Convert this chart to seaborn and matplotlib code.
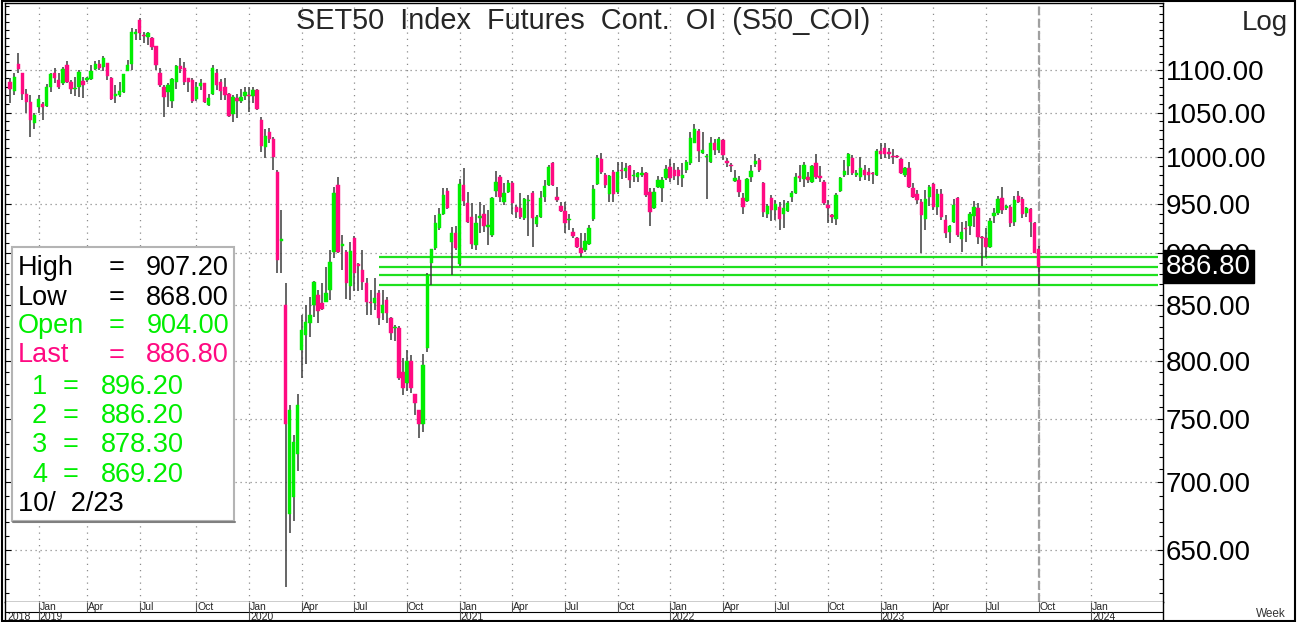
import numpy as np
import pandas as pd
import matplotlib
matplotlib.use("Agg")
import matplotlib.pyplot as plt
import matplotlib.dates as mdates
import matplotlib.transforms as mtransforms
from matplotlib.patches import Rectangle
from matplotlib.lines import Line2D
from matplotlib.ticker import FixedLocator, NullFormatter, FuncFormatter
import seaborn as sns

# weekly bars, first bar on this Monday
first_week = "2018-11-19"

opens = [1086, 1075, 1108, 1096, 1072, 1062, 1038, 1056, 1060, 1058,
         1080, 1097, 1088, 1084, 1106, 1086, 1077, 1080, 1087, 1088,
         1089, 1101, 1107, 1104, 1109, 1090, 1069, 1070, 1074, 1099,
         1108, 1145, 1162, 1143, 1141, 1140, 1129, 1097, 1080, 1074,
         1063, 1086, 1105, 1102, 1090, 1088, 1066, 1081, 1084, 1059,
         1072, 1096, 1086, 1080, 1072, 1048, 1067, 1063, 1069, 1070,
         1069, 1076, 1042, 1011, 1028, 1020, 984, 912, 850, 676,
         689, 722, 809, 823, 834, 850, 860, 852, 853, 864,
         901, 970, 907, 901, 868, 915, 889, 884, 871, 853,
         852, 862, 843, 855, 838, 829, 829, 790, 781, 800,
         771, 758, 746, 811, 890, 905, 925, 940, 964, 911,
         920, 889, 970, 951, 936, 908, 935, 939, 926, 918,
         964, 978, 952, 962, 972, 947, 946, 935, 953, 961,
         929, 936, 957, 970, 993, 957, 948, 943, 933, 921,
         915, 905, 903, 909, 934, 971, 998, 980, 960, 984,
         962, 986, 985, 990, 979, 978, 981, 983, 962, 946,
         968, 967, 977, 989, 986, 986, 977, 986, 993, 1015,
         1029, 1004, 1000, 995, 1015, 1008, 1019, 995, 991, 974,
         975, 956, 953, 978, 992, 997, 972, 940, 956, 944,
         947, 939, 943, 957, 961, 979, 976, 978, 973, 993,
         979, 973, 949, 938, 934, 963, 980, 990, 999, 981,
         978, 986, 984, 983, 980, 1007, 1010, 1006, 1001, 1001,
         998, 980, 988, 967, 960, 952, 934, 957, 971, 947,
         960, 933, 921, 931, 956, 914, 925, 927, 937, 946,
         916, 915, 906, 937, 941, 956, 946, 947, 931, 958,
         955, 941, 945, 930, 904.0]
highs = [1090, 1097, 1121, 1096, 1078, 1070, 1049, 1070, 1062, 1083,
         1097, 1102, 1097, 1104, 1111, 1088, 1092, 1100, 1092, 1092,
         1106, 1111, 1112, 1117, 1109, 1092, 1082, 1086, 1095, 1112,
         1152, 1151, 1165, 1147, 1147, 1141, 1129, 1103, 1082, 1085,
         1090, 1106, 1115, 1110, 1090, 1090, 1086, 1089, 1085, 1072,
         1106, 1101, 1089, 1090, 1073, 1070, 1072, 1078, 1080, 1080,
         1080, 1077, 1045, 1031, 1032, 1022, 986, 944, 871, 762,
         737, 771, 841, 850, 858, 873, 864, 871, 886, 903,
         968, 978, 918, 903, 911, 917, 890, 903, 876, 864,
         876, 864, 864, 858, 839, 832, 831, 802, 809, 805,
         771, 758, 806, 881, 904, 938, 946, 967, 967, 926,
         927, 976, 988, 962, 951, 940, 952, 949, 944, 957,
         985, 980, 972, 975, 974, 949, 961, 956, 959, 964,
         938, 964, 975, 991, 995, 968, 952, 952, 940, 925,
         916, 920, 920, 928, 970, 1002, 1004, 983, 980, 986,
         995, 995, 993, 991, 986, 984, 989, 984, 967, 967,
         979, 978, 991, 998, 993, 989, 993, 997, 1028, 1037,
         1031, 1028, 1003, 1022, 1020, 1022, 1020, 999, 993, 986,
         979, 961, 977, 991, 1003, 999, 973, 950, 959, 954,
         952, 954, 953, 964, 983, 991, 995, 984, 991, 1003,
         990, 975, 954, 940, 961, 978, 997, 1004, 1002, 986,
         1000, 991, 988, 984, 1009, 1016, 1016, 1010, 1009, 1002,
         999, 989, 995, 972, 965, 955, 965, 970, 972, 966,
         966, 938, 928, 955, 957, 931, 932, 942, 953, 951,
         917, 925, 935, 946, 958, 968, 949, 949, 958, 964,
         957, 947, 946, 931, 907.2]
lows = [1061, 1070, 1097, 1064, 1050, 1022, 1031, 1049, 1041, 1057,
        1074, 1084, 1077, 1082, 1084, 1072, 1069, 1068, 1067, 1086,
        1088, 1100, 1100, 1099, 1088, 1064, 1061, 1068, 1073, 1099,
        1100, 1137, 1137, 1133, 1131, 1124, 1100, 1080, 1045, 1057,
        1055, 1077, 1096, 1082, 1074, 1061, 1063, 1076, 1061, 1058,
        1070, 1076, 1065, 1065, 1045, 1039, 1044, 1061, 1065, 1051,
        1061, 1053, 1006, 999, 1015, 986, 881, 881, 624, 662,
        671, 709, 785, 797, 821, 839, 834, 846, 853, 855,
        895, 900, 884, 856, 855, 863, 863, 864, 841, 841,
        846, 832, 836, 834, 818, 817, 783, 770, 774, 772,
        754, 735, 740, 808, 869, 903, 923, 938, 945, 879,
        903, 887, 948, 930, 904, 903, 920, 921, 908, 916,
        957, 952, 949, 961, 940, 935, 934, 933, 917, 906,
        926, 935, 952, 969, 969, 952, 942, 920, 923, 915,
        905, 896, 901, 908, 932, 970, 982, 967, 952, 952,
        960, 976, 977, 967, 973, 973, 978, 957, 927, 945,
        967, 952, 975, 973, 975, 970, 968, 983, 991, 1015,
        995, 1003, 955, 994, 1002, 1005, 997, 989, 984, 973,
        957, 940, 952, 973, 989, 984, 936, 935, 932, 933,
        923, 925, 942, 952, 960, 973, 968, 972, 972, 976,
        973, 949, 930, 930, 928, 962, 978, 980, 980, 978,
        974, 975, 974, 971, 979, 998, 999, 998, 992, 999,
        982, 978, 967, 956, 950, 900, 923, 948, 944, 938,
        933, 915, 910, 930, 916, 901, 911, 918, 926, 909,
        887, 896, 905, 930, 938, 940, 944, 926, 927, 951,
        935, 936, 916, 900, 868.0]
closes = [1078, 1092, 1101, 1071, 1062, 1042, 1047, 1066, 1057, 1080,
          1095, 1091, 1080, 1101, 1086, 1078, 1078, 1098, 1082, 1090,
          1099, 1107, 1102, 1115, 1093, 1066, 1071, 1075, 1095, 1106,
          1147, 1147, 1146, 1142, 1146, 1128, 1106, 1082, 1068, 1082,
          1089, 1105, 1101, 1086, 1086, 1063, 1080, 1085, 1062, 1067,
          1102, 1082, 1075, 1070, 1046, 1068, 1063, 1068, 1074, 1069,
          1076, 1054, 1012, 1023, 1020, 1000, 893, 914, 746, 758,
          732, 762, 827, 835, 841, 872, 845, 847, 862, 891,
          961, 901, 909, 871, 902, 881, 887, 872, 853, 852,
          857, 838, 850, 843, 825, 830, 785, 776, 800, 776,
          764, 746, 796, 879, 904, 930, 940, 959, 946, 920,
          905, 971, 953, 931, 909, 930, 937, 927, 928, 956,
          973, 957, 961, 972, 951, 942, 936, 955, 954, 935,
          936, 956, 969, 989, 970, 954, 943, 930, 934, 917,
          906, 900, 912, 925, 966, 999, 984, 970, 979, 960,
          984, 985, 988, 975, 980, 983, 983, 959, 942, 962,
          975, 975, 987, 977, 979, 979, 980, 995, 1021, 1031,
          1007, 1008, 1001, 1015, 1008, 1020, 1002, 994, 990, 977,
          962, 947, 976, 985, 996, 986, 942, 948, 944, 950,
          934, 946, 951, 961, 978, 977, 991, 975, 990, 978,
          977, 951, 946, 936, 959, 977, 985, 1003, 983, 982,
          988, 980, 980, 982, 1007, 1003, 1003, 1003, 1000, 1000,
          983, 988, 968, 957, 954, 938, 955, 968, 947, 960,
          936, 920, 927, 949, 918, 921, 924, 939, 947, 916,
          915, 906, 932, 941, 955, 944, 948, 930, 954, 952,
          939, 946, 931, 900, 886.8]

price_ticks = [650, 700, 750, 800, 850, 900, 950, 1000, 1050, 1100]
level_values = [896.20, 886.20, 878.30, 869.20]
level_start = "2020-08-17"
level_end = "2024-04-25"
stat_names = ["High", "Low", "Open", "Last"]
stat_values = [907.20, 868.00, 904.00, 886.80]
level_names = ["1", "2", "3", "4"]
last_date_text = "10/  2/23"
title = "SET50  Index  Futures  Cont.  OI  (S50_COI)"

GREEN = "#00EE00"
PINK = "#FF0A82"
GRID = "#8c8c8c"
FS = 19.5

sns.set_theme(style="white", rc={"axes.edgecolor": "black", "axes.linewidth": 1.0})
plt.rcParams["font.family"] = ["Liberation Sans", "DejaVu Sans"]

df = pd.DataFrame({
    "date": pd.date_range(first_week, periods=len(opens), freq="7D"),
    "open": opens, "high": highs, "low": lows, "close": closes,
})
x = mdates.date2num(df["date"])
up = (df["close"] >= df["open"]).to_numpy()
colors = np.where(up, GREEN, PINK)

W, H = 1300, 622
fig = plt.figure(figsize=(W / 100, H / 100), dpi=100)


def fx(px):
    return px / W


def fy(py):
    return 1 - py / H


ax = fig.add_axes([fx(5), fy(602), fx(1163) - fx(5), fy(3) - fy(602)])
xlim = (mdates.date2num(pd.Timestamp("2018-11-10")), mdates.date2num(pd.Timestamp("2024-05-04")))

# quarter gridlines sit on the first Monday of Jan/Apr/Jul/Oct
mondays = pd.date_range("2019-01-01", "2024-01-31", freq="WOM-1MON")
quarters = mondays[mondays.month.isin([1, 4, 7, 10])]
qx = mdates.date2num(quarters)

for v in price_ticks:
    ax.axhline(v, color=GRID, lw=0.9, ls=(0, (1, 3)), zorder=0)
for q in qx:
    ax.axvline(q, color=GRID, lw=0.9, ls=(0, (1, 4)), zorder=0)

ax.axvline(x[-1], color="#a0a0a0", lw=1.6, ls=(0, (4, 1.5)), zorder=1)

ax.hlines(level_values, mdates.date2num(pd.Timestamp(level_start)),
          mdates.date2num(pd.Timestamp(level_end)), color="#1fe01f", lw=1.6, zorder=2)

# candles
ax.vlines(x, df["low"], df["high"], color="#3c3c3c", lw=1.1, zorder=3)
body_lo = np.minimum(df["open"], df["close"])
body_h = np.maximum((df["close"] - df["open"]).abs(), 1.2)
ax.bar(x, body_h, bottom=body_lo, width=5.9, color=colors, edgecolor=colors,
       lw=0.3, zorder=4)

ax.set_yscale("log")
ax.set_ylim(614, 1184)
ax.set_xlim(xlim)
ax.yaxis.set_major_locator(FixedLocator(price_ticks))
ax.yaxis.set_minor_locator(FixedLocator(list(range(620, 1181, 10))))
ax.yaxis.set_major_formatter(FuncFormatter(lambda v, p: f"{v:.2f}"))
ax.yaxis.set_minor_formatter(NullFormatter())
ax.tick_params(axis="y", which="both", direction="in", left=True, right=True,
               labelleft=False, labelright=True, labelsize=FS + 0.5, pad=2,
               colors="black", width=0.8)
ax.tick_params(axis="y", which="major", length=4)
ax.tick_params(axis="y", which="minor", length=3)
ax.tick_params(axis="x", which="both", bottom=False, labelbottom=False)
for s in ax.spines.values():
    s.set_color("black")
    s.set_linewidth(1.0)

# last price tag on the right scale
trans = mtransforms.blended_transform_factory(ax.transAxes, ax.transData)
ax.text(1.0, closes[-1], f"{closes[-1]:.2f}",
        transform=mtransforms.offset_copy(trans, fig=fig, x=3, y=0, units="dots"),
        ha="left", va="center", color="white", fontsize=FS + 0.5, zorder=10, clip_on=False,
        bbox=dict(boxstyle="square,pad=0.12", fc="black", ec="black"))

# date band under the chart
axd = fig.add_axes([fx(5), 0, fx(1163) - fx(5), fy(602)])
axd.set_xlim(xlim)
axd.set_ylim(0, 20)
axd.set_xticks([])
axd.set_yticks([])
axd.set_facecolor("white")
axd.spines["top"].set_visible(False)
axd.spines["bottom"].set_visible(False)
axd.axhline(10, color="black", lw=0.8)
axd.vlines(qx, 10, 20, color="#555555", lw=0.8)
jan = quarters[quarters.month == 1]
axd.vlines(mdates.date2num(jan), 0, 10, color="#555555", lw=0.8)
for q, d in zip(qx, quarters):
    axd.text(q + 1.5, 10.5, d.strftime("%b"), fontsize=7.5, va="bottom", ha="left")
for d in jan:
    axd.text(mdates.date2num(d) + 1.5, 0.5, str(d.year), fontsize=7.5, va="bottom", ha="left")
axd.text(x[0] - 5, 0.5, "2018", fontsize=7.5, va="bottom", ha="left")

# title and right-hand texts
fig.text(fx(583), fy(29), title, ha="center", va="baseline", fontsize=FS + 1.3)
fig.text(fx(1288), fy(30), "Log", ha="right", va="baseline", fontsize=FS + 0.5)
fig.text(fx(1286), fy(617), "Week", ha="right", va="baseline", fontsize=8.5, color="#333333")

# info box
fig.add_artist(Rectangle((fx(12), fy(521)), fx(234) - fx(12), fy(247) - fy(521),
                         transform=fig.transFigure, fc="white", ec="#b4b4b4", lw=1.5, zorder=5))
fig.add_artist(Line2D([fx(13), fx(235)], [fy(522), fy(522)], transform=fig.transFigure,
                      color="#808080", lw=1.5, zorder=5))

stat_colors = ["black", "black", GREEN, PINK]
base = [275, 305, 333, 362.5]
for name, val, c, b in zip(stat_names, stat_values, stat_colors, base):
    fig.text(fx(18), fy(b), name, color=c, fontsize=FS, va="baseline", zorder=6)
    fig.text(fx(117), fy(b), "=", color=c, fontsize=FS, va="baseline", ha="center", zorder=6)
    fig.text(fx(229), fy(b), f"{val:.2f}", color=c, fontsize=FS, va="baseline", ha="right", zorder=6)

base = [394, 423, 452, 482]
for name, val, b in zip(level_names, level_values, base):
    fig.text(fx(32), fy(b), name, color=GREEN, fontsize=FS, va="baseline", zorder=6)
    fig.text(fx(71), fy(b), "=", color=GREEN, fontsize=FS, va="baseline", ha="center", zorder=6)
    fig.text(fx(184), fy(b), f"{val:.2f}", color=GREEN, fontsize=FS, va="baseline", ha="right", zorder=6)
fig.text(fx(18), fy(511), last_date_text, color="black", fontsize=FS, va="baseline", zorder=6)

# outer frame
fig.add_artist(Rectangle((fx(1.5), fy(621)), fx(1295) - fx(1.5), fy(1) - fy(621),
                         transform=fig.transFigure, fc="none", ec="black", lw=1.5, zorder=10))

fig.savefig("out.png", dpi=100)
